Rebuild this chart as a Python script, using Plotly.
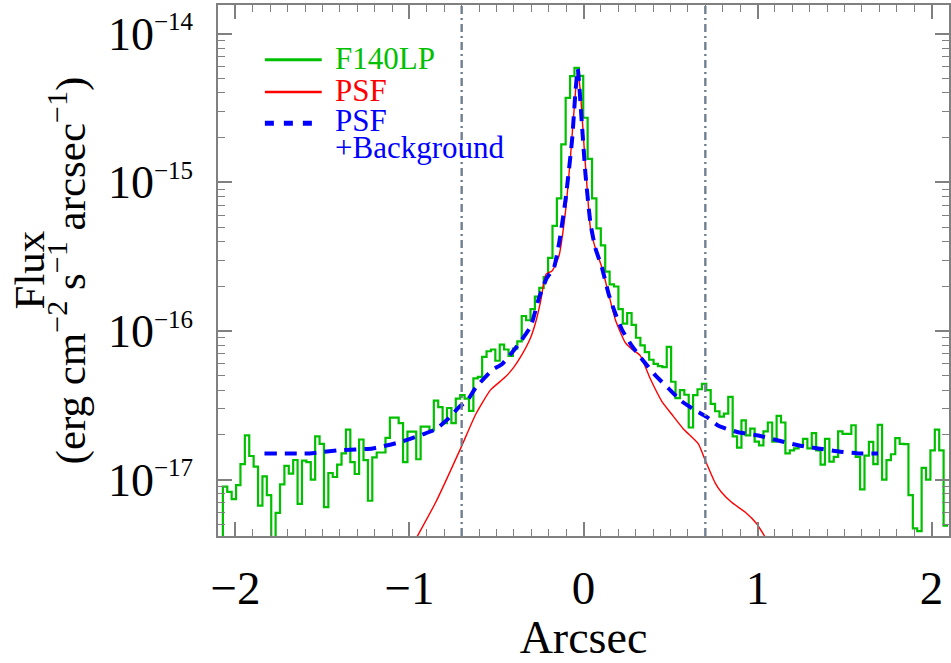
import numpy as np
import plotly.graph_objects as go

# ---------------- data (flux in units of 1e-17 erg cm^-2 s^-1 arcsec^-1) ----------------
f140lp_bin_start = -2.072      # arcsec, left edge of first bin
f140lp_bin_width = 0.02525     # arcsec
f140lp_below_range = 0.3       # bin preceding the first one (below plotted range)
f140lp_flux = [
    0.895, 0.825, 0.739, 0.917, 1.27, 1.98, 1.44, 1.22, 0.667, 1.05,
    0.785, 0.38, 0.597, 0.927, 1.236, 1.095, 1.354, 0.685, 1.34, 1.31,
    1.0, 1.95, 1.74, 0.652, 1.107, 1.04, 1.26, 1.50, 2.17, 1.31,
    1.09, 1.86, 1.35, 0.72, 1.41, 1.52, 1.52, 1.91, 2.61, 2.61,
    2.4, 1.31, 2.10, 2.1, 1.37, 2.27, 2.27, 2.15, 3.40, 3.07,
    2.4, 3.03, 2.4, 3.5, 3.7, 3.5, 2.9, 4.8, 4.9, 6.7,
    7.3, 7.5, 6.3, 8.1, 7.5, 6.8, 7.6, 8.5, 12.6, 11.8,
    14.0, 17.0, 19.5, 23.0, 31.0, 51.0, 78.0, 180.0, 370.0, 518.0,
    589.0, 520.0, 272.0, 144.0, 78.0, 49.0, 37.7, 25.1, 20.6, 19.9,
    14.0, 11.2, 13.2, 11.0, 9.0, 8.0, 7.2, 6.4, 6.0, 5.8,
    5.7, 7.8, 4.55, 3.53, 4.0, 3.72, 2.24, 3.7, 4.05, 4.4,
    4.0, 3.23, 2.88, 2.65, 2.78, 3.6, 1.95, 1.64, 2.5, 1.98,
    2.2, 1.8, 1.70, 2.11, 2.42, 1.8, 2.68, 2.42, 1.50, 1.57,
    1.62, 1.70, 1.88, 1.62, 2.05, 1.57, 1.26, 1.88, 1.32, 1.42,
    2.11, 2.03, 2.03, 2.32, 1.42, 0.86, 1.45, 1.79, 1.27, 2.33,
    1.0, 1.35, 1.48, 1.90, 1.74, 1.73, 0.785, 0.47, 0.45, 1.2,
    1.0, 1.57, 2.17, 1.57, 0.49,
]

psf_x = [-0.990, -0.954, -0.849, -0.702, -0.619, -0.534, -0.448, -0.400, -0.352, -0.304,
         -0.276, -0.247, -0.215, -0.181, -0.142, -0.104, -0.075, -0.046, -0.033, -0.018,
         0.001, 0.018, 0.040, 0.068, 0.106, 0.144, 0.183, 0.240, 0.278, 0.326,
         0.383, 0.450, 0.507, 0.574, 0.660, 0.699, 0.756, 0.794, 0.851, 0.928,
         0.994, 1.042, 1.073]
psf_flux = [0.35, 0.417, 0.703, 1.66, 2.75, 4.01, 4.91, 5.71, 6.98, 9.0,
            11.3, 15.7, 24.1, 25.3, 31.6, 62.8, 148.0, 407.0, 571.0, 407.0,
            191.0, 101.0, 48.9, 36.1, 26.7, 17.8, 11.9, 8.34, 7.53, 6.82,
            4.78, 3.36, 2.75, 2.19, 1.74, 1.35, 0.951, 0.818, 0.703, 0.604,
            0.506, 0.413, 0.357]

bg_x = [-1.833, -1.575, -1.403, -1.212, -1.059, -0.925, -0.849, -0.772, -0.715, -0.668,
        -0.619, -0.524, -0.467, -0.381, -0.304, -0.257, -0.211, -0.171, -0.142, -0.104,
        -0.066, -0.046, -0.033, -0.009, 0.011, 0.040, 0.068, 0.106, 0.144, 0.183,
        0.221, 0.278, 0.335, 0.412, 0.488, 0.564, 0.641, 0.708, 0.775, 0.889,
        1.004, 1.119, 1.233, 1.348, 1.474, 1.577, 1.692]
bg_flux = [1.50, 1.50, 1.575, 1.62, 1.78, 2.01, 2.18, 2.60, 3.07, 3.40,
           4.15, 5.46, 6.0, 7.92, 10.7, 16.5, 22.7, 26.4, 37.9, 75.0,
           191.0, 407.0, 580.0, 245.0, 115.0, 53.0, 36.1, 26.7, 17.8, 13.1,
           10.2, 7.93, 6.48, 5.04, 4.11, 3.36, 2.93, 2.64, 2.30, 2.08,
           1.98, 1.83, 1.70, 1.62, 1.54, 1.50, 1.50]

flux_unit = 1e-17
aperture_limits = [-0.7, 0.7]

y_tick_exponents = [-17, -16, -15, -14]
legend_labels = ["F140LP", "PSF", "PSF", "+Background"]

# ---------------- build ----------------
GREEN = "#00c000"
RED = "#ff0000"
BLUE = "#0000ff"
AXC = "#808080"
FONT = "Liberation Serif"

n = len(f140lp_flux)
edges = f140lp_bin_start + f140lp_bin_width * np.arange(n + 1)
step_x = np.concatenate([[f140lp_bin_start - f140lp_bin_width], edges])
step_y = np.array([f140lp_below_range] + f140lp_flux + [f140lp_flux[-1]]) * flux_unit

fig = go.Figure()
fig.add_trace(go.Scatter(x=step_x, y=step_y, mode="lines", line=dict(color=GREEN, width=2.2, shape="hv"),
                         name="F140LP", showlegend=False))
fig.add_trace(go.Scatter(x=psf_x, y=np.array(psf_flux) * flux_unit, mode="lines",
                         line=dict(color=RED, width=1.4, shape="spline", smoothing=0.5),
                         name="PSF", showlegend=False))
fig.add_trace(go.Scatter(x=bg_x, y=np.array(bg_flux) * flux_unit, mode="lines",
                         line=dict(color=BLUE, width=4, dash="12px,8px", shape="spline", smoothing=0.5),
                         name="PSF+Background", showlegend=False))

for xv in aperture_limits:
    fig.add_shape(type="line", xref="x", yref="paper", x0=xv, x1=xv, y0=0, y1=1,
                  line=dict(color="#708090", width=2.4, dash="8px,4px,2px,4px"))

W, H = 951, 663
ML, MR, MT, MB = 218, 0, 5, 115
PW, PH = W - ML - MR, H - MT - MB

def px2paper(px, py):
    return (px - ML) / PW, (H - MB - py) / PH

# custom legend
legend_items = [
    (61, GREEN, 3, "solid", legend_labels[0], 60),
    (94, RED, 2.5, "solid", legend_labels[1], 92),
    (126, BLUE, 5, "9px,10px", legend_labels[2], 123),
]
for ly, col, lw, dash, label, ty in legend_items:
    x0, y0 = px2paper(265, ly)
    x1, _ = px2paper(322, ly)
    fig.add_shape(type="line", xref="paper", yref="paper", x0=x0, x1=x1, y0=y0, y1=y0,
                  line=dict(color=col, width=lw, dash=dash))
    tx, tyy = px2paper(333, ty)
    fig.add_annotation(xref="paper", yref="paper", x=tx, y=tyy, xanchor="left", yanchor="middle",
                       text=label, showarrow=False, font=dict(family=FONT, size=31, color=col))
tx, tyy = px2paper(333, 151)
fig.add_annotation(xref="paper", yref="paper", x=tx, y=tyy, xanchor="left", yanchor="middle",
                   text=legend_labels[3], showarrow=False, font=dict(family=FONT, size=31, color=BLUE))

# y-axis title (two lines)
for cx, txt in [(28, "Flux"), (67, "(erg cm<sup>−2</sup> s<sup>−1</sup> arcsec<sup>−1</sup>)")]:
    ax_, ay_ = px2paper(cx, 276)
    fig.add_annotation(xref="paper", yref="paper", x=ax_, y=ay_, xanchor="center", yanchor="middle",
                       text=txt, textangle=-90, showarrow=False, font=dict(family=FONT, size=43, color="black"))

fig.update_layout(
    width=W, height=H, margin=dict(l=ML, r=MR, t=MT, b=MB),
    plot_bgcolor="white", paper_bgcolor="white", showlegend=False,
    font=dict(family=FONT, color="black"),
)
fig.update_xaxes(
    range=[-2.1, 2.1], showgrid=False, zeroline=False, showline=True, linecolor=AXC, linewidth=1.5,
    mirror="ticks", ticks="inside", ticklen=14, tickwidth=1.5, tickcolor=AXC, dtick=1, tick0=0,
    minor=dict(ticks="inside", ticklen=7, tickwidth=1.2, tickcolor=AXC, dtick=0.1, tick0=0, showgrid=False),
    tickfont=dict(family=FONT, size=47, color="black"), ticklabelstandoff=10,
    title=dict(text="Arcsec", font=dict(family=FONT, size=46, color="black"), standoff=17),
)
fig.update_yaxes(
    type="log", range=[np.log10(4.17e-18), np.log10(1.56e-14)], showgrid=False, zeroline=False,
    showline=True, linecolor=AXC, linewidth=1.5, mirror="ticks", ticks="inside", ticklen=14,
    tickwidth=1.5, tickcolor=AXC,
    tickmode="array", tickvals=[10.0 ** e for e in y_tick_exponents],
    ticktext=["10<sup><span style='font-size:25px'>−%d</span></sup>" % (-e) for e in y_tick_exponents],
    minor=dict(ticks="inside", ticklen=7, tickwidth=1.2, tickcolor=AXC, dtick="D1", showgrid=False),
    tickfont=dict(family=FONT, size=46, color="black"), ticklabelstandoff=14, ticklabeloverflow="allow",
)

fig.write_html("out.html")
